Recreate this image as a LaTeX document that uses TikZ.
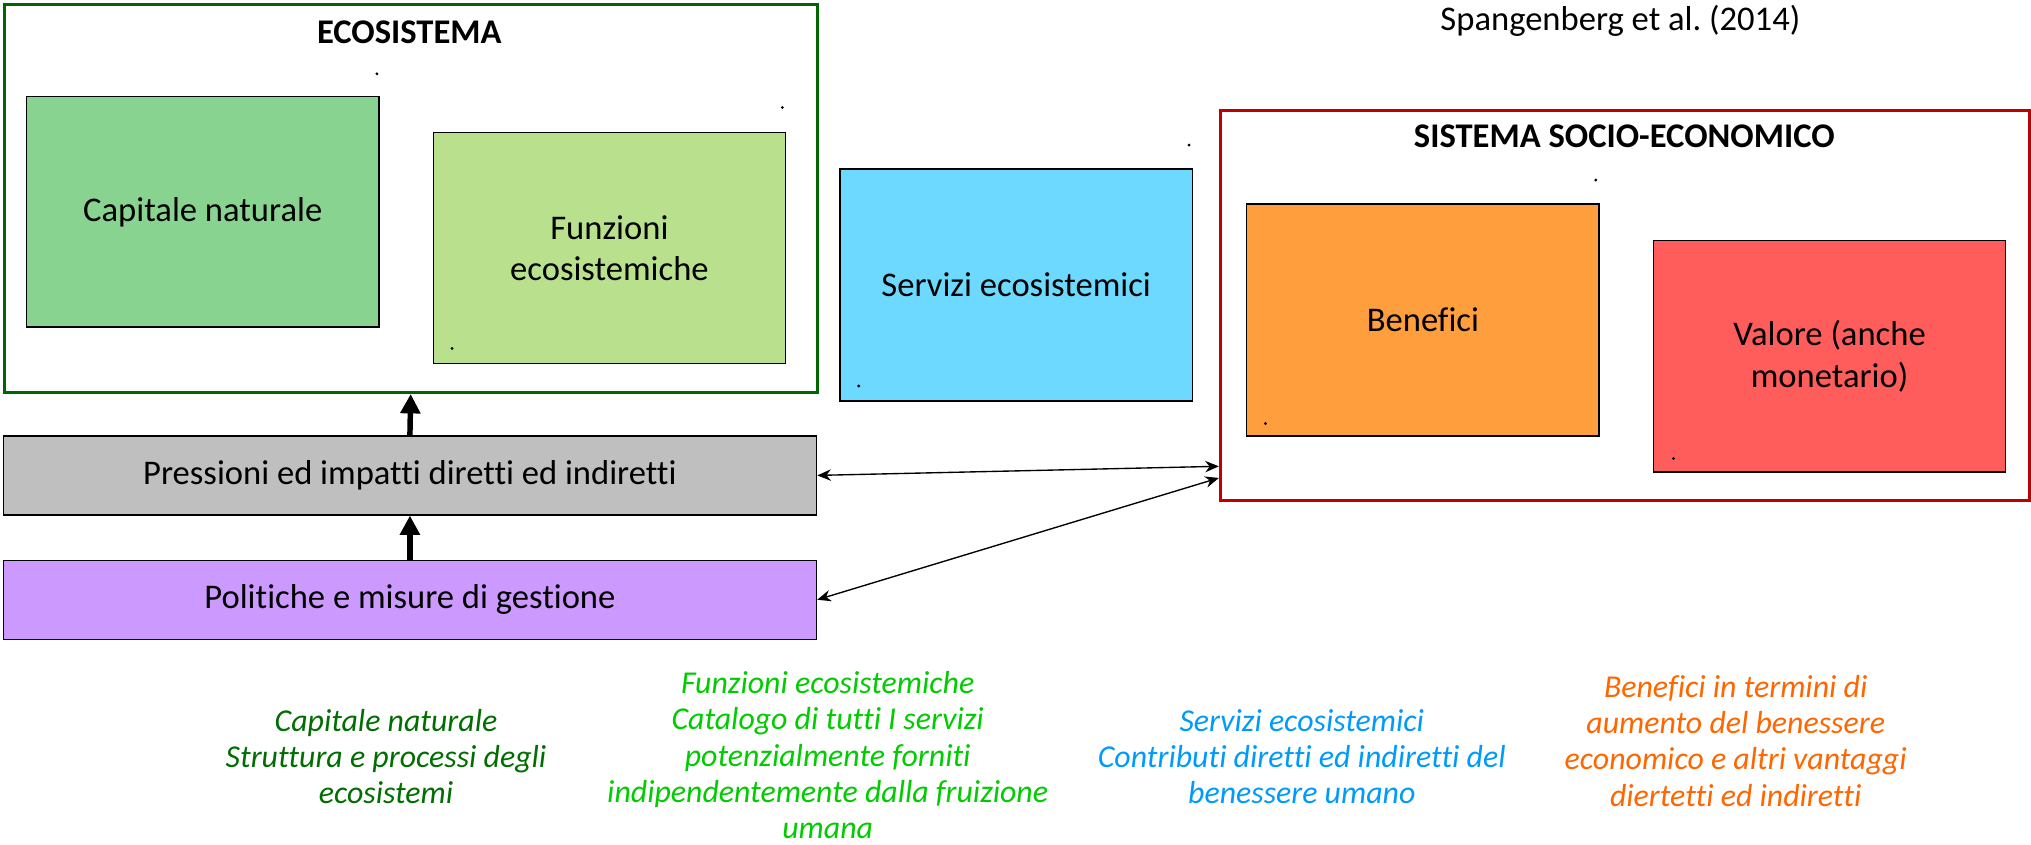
\documentclass[tikz,border=0pt]{standalone}
\usepackage{fontspec}
\setmainfont{Carlito}[RawFeature={-liga;-clig;-calt}]
\usetikzlibrary{arrows.meta}
\frenchspacing
\definecolor{ecogreen}{RGB}{0,102,0}
\definecolor{socred}{RGB}{192,0,0}
\definecolor{capfill}{RGB}{136,211,143}
\definecolor{funfill}{RGB}{185,224,140}
\definecolor{serfill}{RGB}{109,217,254}
\definecolor{benfill}{RGB}{255,158,61}
\definecolor{valfill}{RGB}{255,92,92}
\definecolor{prefill}{RGB}{191,191,191}
\definecolor{polfill}{RGB}{204,153,255}
\definecolor{notegreen}{RGB}{0,110,0}
\definecolor{notelime}{RGB}{0,204,0}
\definecolor{noteblue}{RGB}{0,155,250}
\definecolor{noteorange}{RGB}{255,102,0}
\begin{document}
\begin{tikzpicture}[x=0.02cm, y=-0.02cm,
    box/.style={draw=black, line width=0.6pt, anchor=north west, inner sep=0pt,
        minimum width=5.44cm, minimum height=3.58cm, align=center,
        font=\fontsize{15.2}{18.3}\selectfont},
    widebox/.style={box, minimum width=12.56cm, minimum height=1.22cm},
    frame/.style={line width=1.3pt, anchor=north west, inner sep=0pt},
    title/.style={font=\fontsize{15.2}{18.3}\selectfont\bfseries},
    note/.style={align=center, font=\fontsize{14}{15.9}\selectfont\itshape},
    fat/.style={line width=2.4pt, -{Triangle[length=8.5pt,width=8.5pt]}},
    thin2/.style={line width=0.6pt, {Stealth[length=6pt,width=5pt]}-{Stealth[length=6pt,width=5pt]}}]
\useasboundingbox (0,0) rectangle (1568,652);
% ecosistema
\node[frame, draw=ecogreen, minimum width=12.56cm, minimum height=6cm] (eco) at (2,2) {};
\node[title] (ecotitle) at (316,25) {ECOSISTEMA};
\node[box, fill=capfill, minimum height=3.56cm] (capitale) at (20,74) {Capitale naturale};
\node[box, fill=funfill, minimum height=3.56cm] (funzioni) at (334,102) {Funzioni\\ecosistemiche};
\node[box, fill=serfill] (servizi) at (648,130) {Servizi ecosistemici};
% sistema socio-economico
\node[frame, draw=socred, minimum width=12.5cm, minimum height=6.02cm] (socio) at (941,84) {};
\node[title] (sociotitle) at (1254,105) {SISTEMA SOCIO-ECONOMICO};
\node[box, fill=benfill] (benefici) at (962,157) {Benefici};
\node[box, fill=valfill] (valore) at (1276,185) {Valore (anche\\monetario)};
\node[font=\fontsize{15.2}{18.3}\selectfont] (fonte) at (1251,16) {Spangenberg et al. (2014)};
% pressioni e politiche
\node[widebox, fill=prefill] (pressioni) at (2,336) {Pressioni ed impatti diretti ed indiretti};
\node[widebox, fill=polfill] (politiche) at (2,432) {Politiche e misure di gestione};
\draw[fat] (pressioni.north) -- (eco.south);
\draw[fat] (politiche.north) -- (pressioni.south);
\coordinate (s1) at (941,360);
\coordinate (s2) at (941,369);
\draw[thin2] (pressioni.east) -- (s1);
\draw[thin2] (politiche.east) -- (s2);
% punti
\foreach \x/\y in {291/57, 604/83, 918/112, 349/269, 663/298, 1232/139, 977/327, 1292/354}
    \fill (\x,\y) circle[radius=0.7pt];
% note
\node[note, text=notegreen] (notacap) at (298,584) {Capitale naturale\\Struttura e processi degli\\ecosistemi};
\node[note, text=notelime] (notafun) at (639,583) {Funzioni ecosistemiche\\Catalogo di tutti I servizi\\potenzialmente forniti\\indipendentemente dalla fruizione\\umana};
\node[note, text=noteblue] (notaser) at (1005,584) {Servizi ecosistemici\\Contributi diretti ed indiretti del\\benessere umano};
\node[note, text=noteorange] (notaben) at (1340,572) {Benefici in termini di\\aumento del benessere\\economico e altri vantaggi\\diertetti ed indiretti};
\end{tikzpicture}
\end{document}
